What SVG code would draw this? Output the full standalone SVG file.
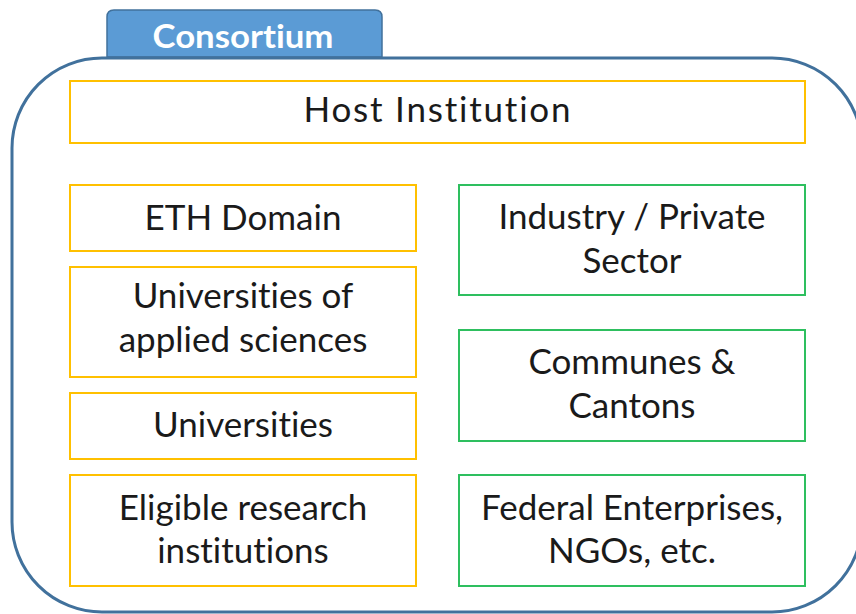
<svg xmlns="http://www.w3.org/2000/svg" width="856" height="614" viewBox="0 0 856 614">
<style>
text{font-variant-ligatures:none;font-feature-settings:"liga" 0,"clig" 0}
.t{font-family:Lato,"Liberation Sans",sans-serif;font-size:35px;fill:#1a1a1a;text-anchor:middle}
.y{fill:#fff;stroke:#FFC000;stroke-width:2}
.g{fill:#fff;stroke:#2EBF5F;stroke-width:2}
</style>
<rect width="856" height="614" fill="#fff"/>
<g id="consortium">
<path d="M107,57 V17 Q107,10 114,10 H375 Q382,10 382,17 V57 Z" fill="#5B9BD5" stroke="#41719C" stroke-width="1.5"/>
<rect x="12" y="58" width="850" height="554" rx="90" ry="90" fill="none" stroke="#41719C" stroke-width="3"/>
<text x="243" y="48" textLength="181" lengthAdjust="spacingAndGlyphs" style="font-family:Lato,'Liberation Sans',sans-serif;font-size:32px;font-weight:bold;fill:#fff;text-anchor:middle">Consortium</text>
</g>
<g id="host"><rect class="y" x="70" y="81" width="735" height="62"/><text class="t" x="437" y="122" textLength="267">Host Institution</text></g>
<g id="eth"><rect class="y" x="70" y="185" width="346" height="66"/><text class="t" x="243" y="230">ETH Domain</text></g>
<g id="uas"><rect class="y" x="70" y="267" width="346" height="110"/><text class="t" x="243" y="308">Universities of</text><text class="t" x="243" y="352">applied sciences</text></g>
<g id="uni"><rect class="y" x="70" y="393" width="346" height="66"/><text class="t" x="243" y="437">Universities</text></g>
<g id="eri"><rect class="y" x="70" y="475" width="346" height="111"/><text class="t" x="243" y="520">Eligible research</text><text class="t" x="243" y="563">institutions</text></g>
<g id="industry"><rect class="g" x="459" y="185" width="346" height="110"/><text class="t" x="632" y="229">Industry / Private</text><text class="t" x="632" y="273">Sector</text></g>
<g id="communes"><rect class="g" x="459" y="330" width="346" height="111"/><text class="t" x="632" y="374">Communes &amp;</text><text class="t" x="632" y="418">Cantons</text></g>
<g id="federal"><rect class="g" x="459" y="475" width="346" height="111"/><text class="t" x="632" y="520">Federal Enterprises,</text><text class="t" x="632" y="563">NGOs, etc.</text></g>
<g id="connectors"></g>
</svg>
